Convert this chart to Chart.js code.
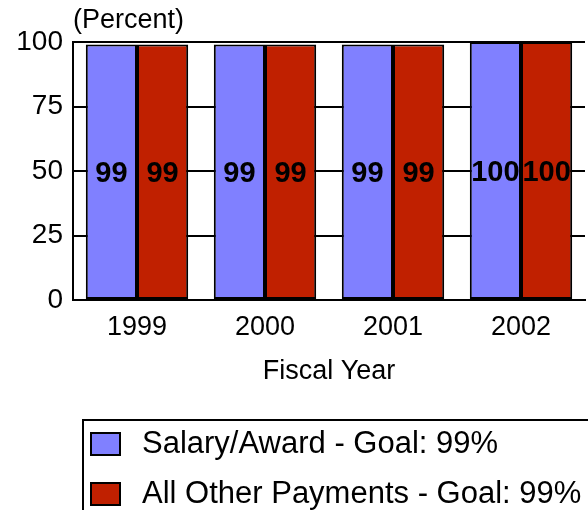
<!DOCTYPE html>
<html>
<head>
<meta charset="utf-8">
<script src="https://cdn.jsdelivr.net/npm/chart.js@4/dist/chart.umd.min.js"></script>
<style>
    html, body { margin: 0; padding: 0; background: #fff; overflow: hidden; }
    #chart { display: block; }
</style>
</head>
<body>
<canvas id="chart" width="588" height="510"></canvas>
<script>
// ===== Data =====
const years = ['1999', '2000', '2001', '2002'];
const salaryAward = [99, 99, 99, 100];
const otherPayments = [99, 99, 99, 100];
const seriesNames = ['Salary/Award - Goal: 99%', 'All Other Payments - Goal: 99%'];
const yTicks = [0, 25, 50, 75, 100];

const FONT = "'Liberation Sans', Arial, sans-serif";
const BLUE = '#8080ff';
const RED = '#c02000';

// Value labels in the middle of each bar
const barLabels = {
    id: 'barLabels',
    afterDatasetsDraw(chart) {
        const ctx = chart.ctx;
        ctx.save();
        ctx.font = 'bold 29px ' + FONT;
        ctx.fillStyle = '#000';
        ctx.textAlign = 'center';
        ctx.textBaseline = 'middle';
        chart.data.datasets.forEach((ds, i) => {
            chart.getDatasetMeta(i).data.forEach((bar, j) => {
                ctx.fillText(ds.data[j], bar.x, (bar.y + bar.base) / 2 + 2);
            });
        });
        ctx.restore();
    }
};

// Unit caption and the boxed legend
const extras = {
    id: 'extras',
    afterDraw(chart) {
        const ctx = chart.ctx;
        const area = chart.chartArea;
        ctx.save();
        ctx.fillStyle = '#000';
        ctx.strokeStyle = '#000';
        ctx.lineWidth = 2;
        ctx.font = '27px ' + FONT;
        ctx.textAlign = 'left';
        ctx.textBaseline = 'middle';
        ctx.fillText('(Percent)', area.left, 21);

        // legend box
        ctx.strokeRect(83, 420, chart.width, 120);
        const colors = [BLUE, RED];
        const rows = [444, 494];
        ctx.font = '31px ' + FONT;
        rows.forEach((ry, i) => {
            ctx.fillStyle = colors[i];
            ctx.fillRect(91, ry - 11, 29, 22);
            ctx.strokeRect(91, ry - 11, 29, 22);
            ctx.fillStyle = '#000';
            ctx.fillText(seriesNames[i], 142, ry);
        });
        ctx.restore();
    }
};

new Chart(document.getElementById('chart'), {
    type: 'bar',
    data: {
        labels: years,
        datasets: [{
            label: seriesNames[0],
            data: salaryAward,
            backgroundColor: BLUE,
            borderColor: '#000',
            borderWidth: 2,
            borderSkipped: false
        }, {
            label: seriesNames[1],
            data: otherPayments,
            backgroundColor: RED,
            borderColor: '#000',
            borderWidth: 2,
            borderSkipped: false
        }]
    },
    options: {
        responsive: false,
        animation: false,
        layout: {
            padding: { top: 42, right: 3, bottom: 120, left: 0 }
        },
        datasets: {
            bar: { categoryPercentage: 0.8, barPercentage: 1.0 }
        },
        plugins: {
            legend: { display: false },
            tooltip: { enabled: false }
        },
        scales: {
            x: {
                grid: { display: false, drawTicks: false },
                border: { display: true, color: '#000', width: 2 },
                ticks: { color: '#000', font: { family: FONT, size: 27 }, padding: 11 },
                title: {
                    display: true,
                    text: 'Fiscal Year',
                    color: '#000',
                    font: { family: FONT, size: 27 },
                    padding: { top: 0, bottom: 2 }
                },
                afterFit(scale) { scale.height = 90; }
            },
            y: {
                min: 0,
                max: 100,
                afterBuildTicks(scale) {
                    scale.ticks = yTicks.map(v => ({ value: v }));
                },
                grid: { color: '#000', lineWidth: 2, drawTicks: false },
                border: { display: true, color: '#000', width: 2 },
                ticks: { color: '#000', font: { family: FONT, size: 28 }, padding: 10 },
                afterFit(scale) { scale.width = 73; }
            }
        }
    },
    plugins: [barLabels, extras]
});
</script>
</body>
</html>
